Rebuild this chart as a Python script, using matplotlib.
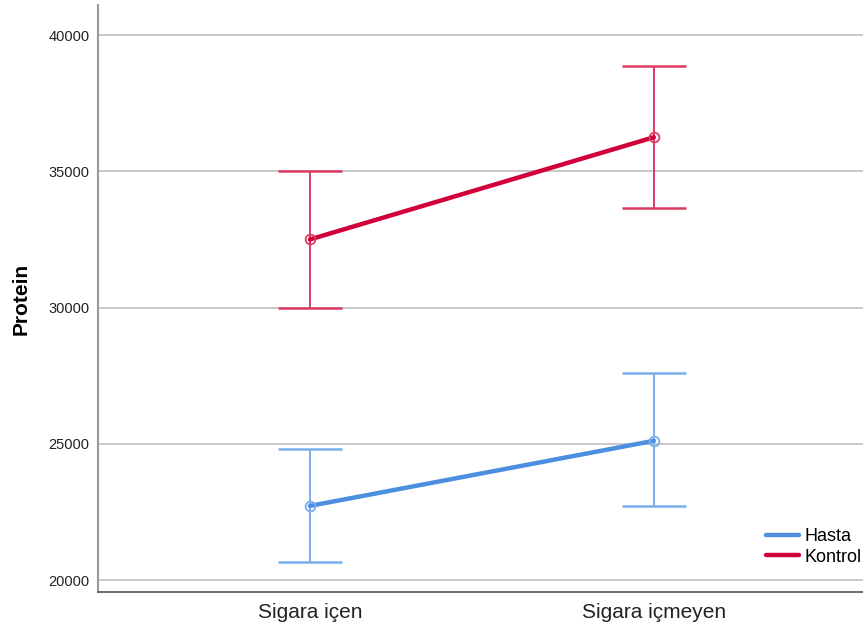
import matplotlib.pyplot as plt

groups = ['Sigara içen', 'Sigara içmeyen']
series = ['Hasta', 'Kontrol']
means = {
    'Hasta': [22720, 25110],
    'Kontrol': [32500, 36250],
}
upper = {
    'Hasta': [24800, 27580],
    'Kontrol': [35000, 38860],
}
lower = {
    'Hasta': [20650, 22700],
    'Kontrol': [30000, 33650],
}
line_colors = {'Hasta': '#4C8FE0', 'Kontrol': '#D2003A'}
bar_colors = {'Hasta': '#79AEEC', 'Kontrol': '#DD3A62'}

plt.rcParams['font.family'] = ['Liberation Sans', 'DejaVu Sans']

fig = plt.figure(figsize=(8.63, 6.37), dpi=100)
ax = fig.add_axes([0.1136, 0.0706, 0.8864, 0.9214])

x = list(range(len(groups)))
for s in series:
    m = means[s]
    err = [[m[i] - lower[s][i] for i in x], [upper[s][i] - m[i] for i in x]]
    ax.errorbar(x, m, yerr=err, fmt='none', ecolor=bar_colors[s],
                elinewidth=1.4, capsize=23, capthick=1.8, zorder=3)
    ax.plot(x, m, color=line_colors[s], lw=3.2, label=s, zorder=4,
            solid_capstyle='round')
    ax.plot(x, m, 'o', ms=7, mfc='none', mec=bar_colors[s], mew=1.3,
            zorder=5)

ax.set_xlim(-0.616, 1.608)
ax.set_ylim(19560, 41100)
ax.set_yticks([20000, 25000, 30000, 35000, 40000])
ax.set_xticks(x)
ax.set_xticklabels(groups, fontsize=15, color='#222222')
ax.tick_params(axis='y', length=0, pad=6, labelsize=10.5, labelcolor='#222222')
ax.tick_params(axis='x', length=0, pad=8)
ax.yaxis.grid(True, color='#C4C4C4', lw=1.3)
ax.set_axisbelow(True)
ax.set_ylabel('Protein', fontsize=15, fontweight='bold', labelpad=13)

for side in ['top', 'right']:
    ax.spines[side].set_visible(False)
ax.spines['left'].set_color('#999999')
ax.spines['left'].set_linewidth(1.5)
ax.spines['bottom'].set_color('#555555')
ax.spines['bottom'].set_linewidth(1.2)

ax.legend(loc='lower right', bbox_to_anchor=(0.998, 0.045), frameon=False,
          fontsize=13, handlelength=1.8, handletextpad=0.3,
          labelspacing=0.18, borderpad=0, borderaxespad=0)

plt.savefig('out.png', dpi=100)
